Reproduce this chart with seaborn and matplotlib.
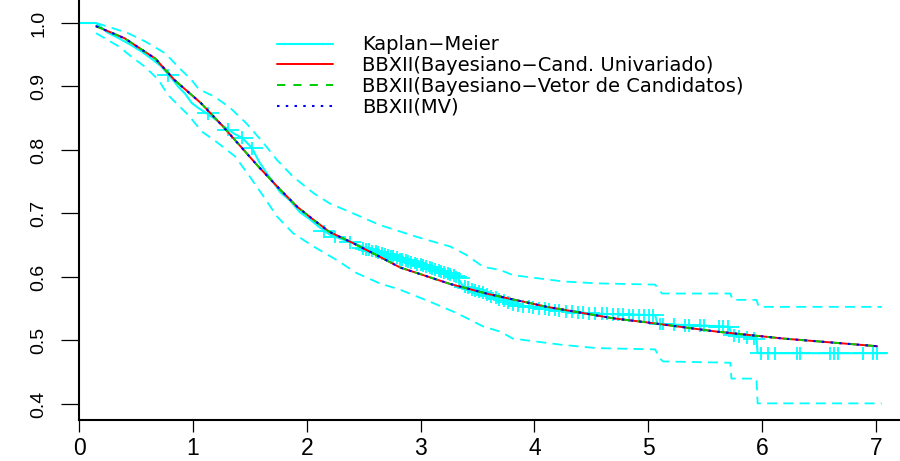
import numpy as np
import matplotlib
matplotlib.use("Agg")
import matplotlib.pyplot as plt
from matplotlib.path import Path
import seaborn as sns

# ---------------- data ----------------
km_time = [0.00, 0.15, 0.25, 0.35, 0.45, 0.55, 0.65, 0.72, 0.80, 0.87, 0.93, 0.99,
           1.05, 1.12, 1.20, 1.28, 1.36, 1.44, 1.52, 1.58, 1.65, 1.71, 1.77, 1.85,
           1.94, 2.02, 2.10, 2.20, 2.30, 2.42, 2.55, 2.70, 2.85, 3.00, 3.15, 3.33,
           3.37, 3.50, 3.62, 3.72, 3.82, 4.00, 4.25, 4.55, 5.06, 5.08, 5.71, 5.73,
           5.95, 5.96, 7.09]
km_surv = [1.000, 1.000, 0.985, 0.976, 0.966, 0.955, 0.942, 0.932, 0.916, 0.900, 0.889, 0.874,
           0.866, 0.858, 0.848, 0.836, 0.826, 0.818, 0.803, 0.782, 0.763, 0.748, 0.733, 0.721,
           0.702, 0.692, 0.680, 0.667, 0.660, 0.653, 0.643, 0.635, 0.627, 0.619, 0.610, 0.598,
           0.586, 0.577, 0.570, 0.564, 0.556, 0.552, 0.546, 0.542, 0.540, 0.526, 0.522, 0.509,
           0.503, 0.480, 0.480]

ci_upper_time = [0.15, 0.26, 0.43, 0.58, 0.76, 0.87, 0.99, 1.05, 1.19, 1.33, 1.47, 1.62,
                 1.74, 1.88, 2.06, 2.20, 2.41, 2.64, 2.97, 3.26, 3.40, 3.55, 3.70, 3.81,
                 4.25, 4.55, 5.06, 5.12, 5.72, 5.74, 5.95, 5.97, 7.05]
ci_upper_surv = [1.000, 0.994, 0.984, 0.971, 0.952, 0.931, 0.910, 0.896, 0.884, 0.866, 0.842, 0.811,
                 0.784, 0.758, 0.732, 0.716, 0.700, 0.682, 0.663, 0.648, 0.635, 0.616, 0.611, 0.603,
                 0.593, 0.590, 0.588, 0.574, 0.574, 0.564, 0.564, 0.553, 0.553]

ci_lower_time = [0.15, 0.35, 0.46, 0.58, 0.70, 0.78, 0.96, 1.08, 1.22, 1.37, 1.50, 1.62,
                 1.74, 1.88, 2.06, 2.26, 2.44, 2.64, 2.82, 3.11, 3.32, 3.55, 3.70, 3.81,
                 4.25, 4.55, 5.06, 5.10, 5.13, 5.72, 5.73, 5.95, 5.96, 7.05]
ci_lower_surv = [0.984, 0.963, 0.947, 0.931, 0.910, 0.887, 0.855, 0.829, 0.811, 0.790, 0.758, 0.727,
                 0.695, 0.669, 0.648, 0.627, 0.606, 0.590, 0.580, 0.559, 0.543, 0.522, 0.514, 0.503,
                 0.493, 0.488, 0.486, 0.472, 0.467, 0.465, 0.440, 0.440, 0.401, 0.401]

censor_time = [0.78, 1.13, 1.31, 1.43, 1.52, 2.15, 2.25, 2.38,
               2.49, 2.52, 2.55, 2.57, 2.61, 2.63, 2.66, 2.69, 2.71, 2.74, 2.76, 2.79,
               2.82, 2.84, 2.87, 2.89, 2.92, 2.95, 2.97, 3.00, 3.02, 3.05, 3.08, 3.10,
               3.13, 3.16, 3.18, 3.21, 3.24, 3.26, 3.29, 3.31, 3.34,
               3.39, 3.42, 3.45, 3.48, 3.51, 3.55, 3.58, 3.62, 3.66, 3.69, 3.73, 3.77, 3.81,
               3.86, 3.90, 3.95, 3.99, 4.04, 4.09, 4.13, 4.18, 4.22, 4.28, 4.33, 4.38, 4.43,
               4.48, 4.53, 4.59, 4.64, 4.69, 4.73, 4.78, 4.83, 4.87, 4.92, 4.96, 5.01, 5.04,
               5.10, 5.13, 5.23, 5.32, 5.36, 5.45, 5.49, 5.62, 5.66, 5.70,
               5.75, 5.80, 5.87, 5.93,
               5.99, 6.05, 6.11, 6.31, 6.33, 6.60, 6.63, 6.67, 6.89, 6.97, 7.01]
censor_surv = [0.918, 0.858, 0.832, 0.819, 0.803, 0.672, 0.663, 0.655,
               0.645, 0.644, 0.643, 0.641, 0.640, 0.639, 0.637, 0.636, 0.634, 0.633, 0.632, 0.630,
               0.628, 0.627, 0.626, 0.625, 0.623, 0.622, 0.620, 0.619, 0.618, 0.616, 0.615, 0.613,
               0.612, 0.610, 0.609, 0.607, 0.606, 0.604, 0.602, 0.600, 0.598,
               0.585, 0.583, 0.581, 0.579, 0.577, 0.575, 0.572, 0.570, 0.567, 0.565, 0.563, 0.560, 0.557,
               0.555, 0.554, 0.553, 0.552, 0.551, 0.550, 0.549, 0.548, 0.547, 0.546, 0.545, 0.544, 0.544,
               0.543, 0.542, 0.542, 0.542, 0.541, 0.541, 0.541, 0.540, 0.540, 0.540, 0.540, 0.540, 0.540,
               0.526, 0.526, 0.525, 0.524, 0.524, 0.523, 0.523, 0.522, 0.522, 0.522,
               0.508, 0.507, 0.505, 0.503,
               0.480, 0.480, 0.480, 0.480, 0.480, 0.480, 0.480, 0.480, 0.480, 0.480, 0.480]

fit_time = [0.15, 0.40, 0.67, 0.84, 1.07, 1.26, 1.57, 1.77, 1.92, 2.06, 2.20, 2.40,
            2.64, 2.82, 3.26, 3.60, 4.11, 4.69, 5.01, 5.60, 6.19, 7.01]
fit_bayes_univ = [0.995, 0.976, 0.944, 0.910, 0.874, 0.838, 0.775, 0.737, 0.710, 0.690, 0.671, 0.654,
                  0.632, 0.615, 0.589, 0.573, 0.553, 0.535, 0.528, 0.514, 0.503, 0.491]
fit_bayes_vec = [0.995, 0.976, 0.944, 0.910, 0.874, 0.838, 0.775, 0.737, 0.710, 0.690, 0.671, 0.654,
                 0.632, 0.615, 0.589, 0.573, 0.553, 0.535, 0.528, 0.514, 0.503, 0.491]
fit_mv = [0.995, 0.976, 0.944, 0.910, 0.874, 0.838, 0.775, 0.737, 0.710, 0.690, 0.671, 0.654,
          0.632, 0.615, 0.589, 0.573, 0.553, 0.535, 0.528, 0.514, 0.503, 0.491]

legend_labels = ["Kaplan\u2212Meier",
                 "BBXII(Bayesiano\u2212Cand. Univariado)",
                 "BBXII(Bayesiano\u2212Vetor de Candidatos)",
                 "BBXII(MV)"]
x_ticks = [0, 1, 2, 3, 4, 5, 6, 7]
y_ticks = [0.4, 0.5, 0.6, 0.7, 0.8, 0.9, 1.0]
y_tick_labels = ["0.4", "0.5", "0.6", "0.7", "0.8", "0.9", "1.0"]

# ---------------- style ----------------
sns.set_style("ticks")
plt.rcParams["font.family"] = ["DejaVu Sans"]
plt.rcParams["text.color"] = "black"
plt.rcParams["xtick.color"] = "black"
plt.rcParams["ytick.color"] = "black"

CYAN = "#00FFFF"
RED = "#FF0000"
GREEN = "#00CD00"
BLUE = "#0000FF"

W, H = 900, 461
fig = plt.figure(figsize=(W / 100, H / 100), dpi=100)
ax = fig.add_axes([79 / W, 41 / H, 821 / W, 420 / H])

# confidence band (dashed)
sns.lineplot(x=ci_upper_time, y=ci_upper_surv, ax=ax, color=CYAN, lw=1.3,
             ls=(0, (5.5, 3.5)), estimator=None, sort=False)
sns.lineplot(x=ci_lower_time, y=ci_lower_surv, ax=ax, color=CYAN, lw=1.3,
             ls=(0, (5.5, 3.5)), estimator=None, sort=False)

# Kaplan-Meier curve
sns.lineplot(x=km_time, y=km_surv, ax=ax, color=CYAN, lw=1.5,
             estimator=None, sort=False, label=legend_labels[0])

# censoring marks
plus = Path([(-1.7, 0), (1.7, 0), (0, -1), (0, 1)],
            [Path.MOVETO, Path.LINETO, Path.MOVETO, Path.LINETO])
sns.scatterplot(x=censor_time, y=censor_surv, ax=ax, marker=plus, s=250,
                facecolor="none", edgecolor=CYAN, linewidth=1.3, zorder=2.5)

# fitted curves
sns.lineplot(x=fit_time, y=fit_bayes_univ, ax=ax, color=RED, lw=1.4,
             estimator=None, sort=False, label=legend_labels[1], zorder=3)
sns.lineplot(x=fit_time, y=fit_bayes_vec, ax=ax, color=GREEN, lw=1.4,
             ls=(0, (4.2, 4.2)), estimator=None, sort=False,
             label=legend_labels[2], zorder=3.1)
sns.lineplot(x=fit_time, y=fit_mv, ax=ax, color=BLUE, lw=1.5,
             ls=(0, (1.2, 3.0)), estimator=None, sort=False,
             label=legend_labels[3], zorder=3.2)

# axes
ax.set_xlim(0, 821 / 113.86)
ax.set_ylim(0.4 - 16 / 635, 1.0 + 23 / 635)
ax.set_xticks(x_ticks)
ax.set_xticklabels([str(v) for v in x_ticks])
ax.set_yticks(y_ticks)
ax.set_yticklabels(y_tick_labels, rotation=90, va="center",
                   family=["Liberation Sans", "DejaVu Sans"], fontsize=14)
ax.set_xlabel("")
ax.set_ylabel("")
for lab in ax.get_xticklabels():
    lab.set_fontsize(16.5)
    lab.set_family(["Liberation Sans", "DejaVu Sans"])

ax.tick_params(axis="y", length=13, width=0.9, pad=10, colors="black")
ax.tick_params(axis="x", length=8.5, width=0.9, pad=4, colors="black")
for side in ("top", "right"):
    ax.spines[side].set_visible(False)
for side in ("left", "bottom"):
    ax.spines[side].set_linewidth(1.5)
    ax.spines[side].set_color("black")

# legend
handles, labels = ax.get_legend_handles_labels()
fs = 14
fs_px = fs * 100 / 72
ax.legend(handles, labels, loc="upper left",
          bbox_to_anchor=(277 / W, 1 - 35.5 / H), bbox_transform=fig.transFigure,
          frameon=False, borderpad=0, borderaxespad=0,
          handlelength=56 / fs_px, handletextpad=(362 - 333) / fs_px,
          labelspacing=0.09, labelcolor="black",
          prop={"family": "DejaVu Sans", "size": fs})

fig.savefig("out.png", dpi=100, facecolor="white")
